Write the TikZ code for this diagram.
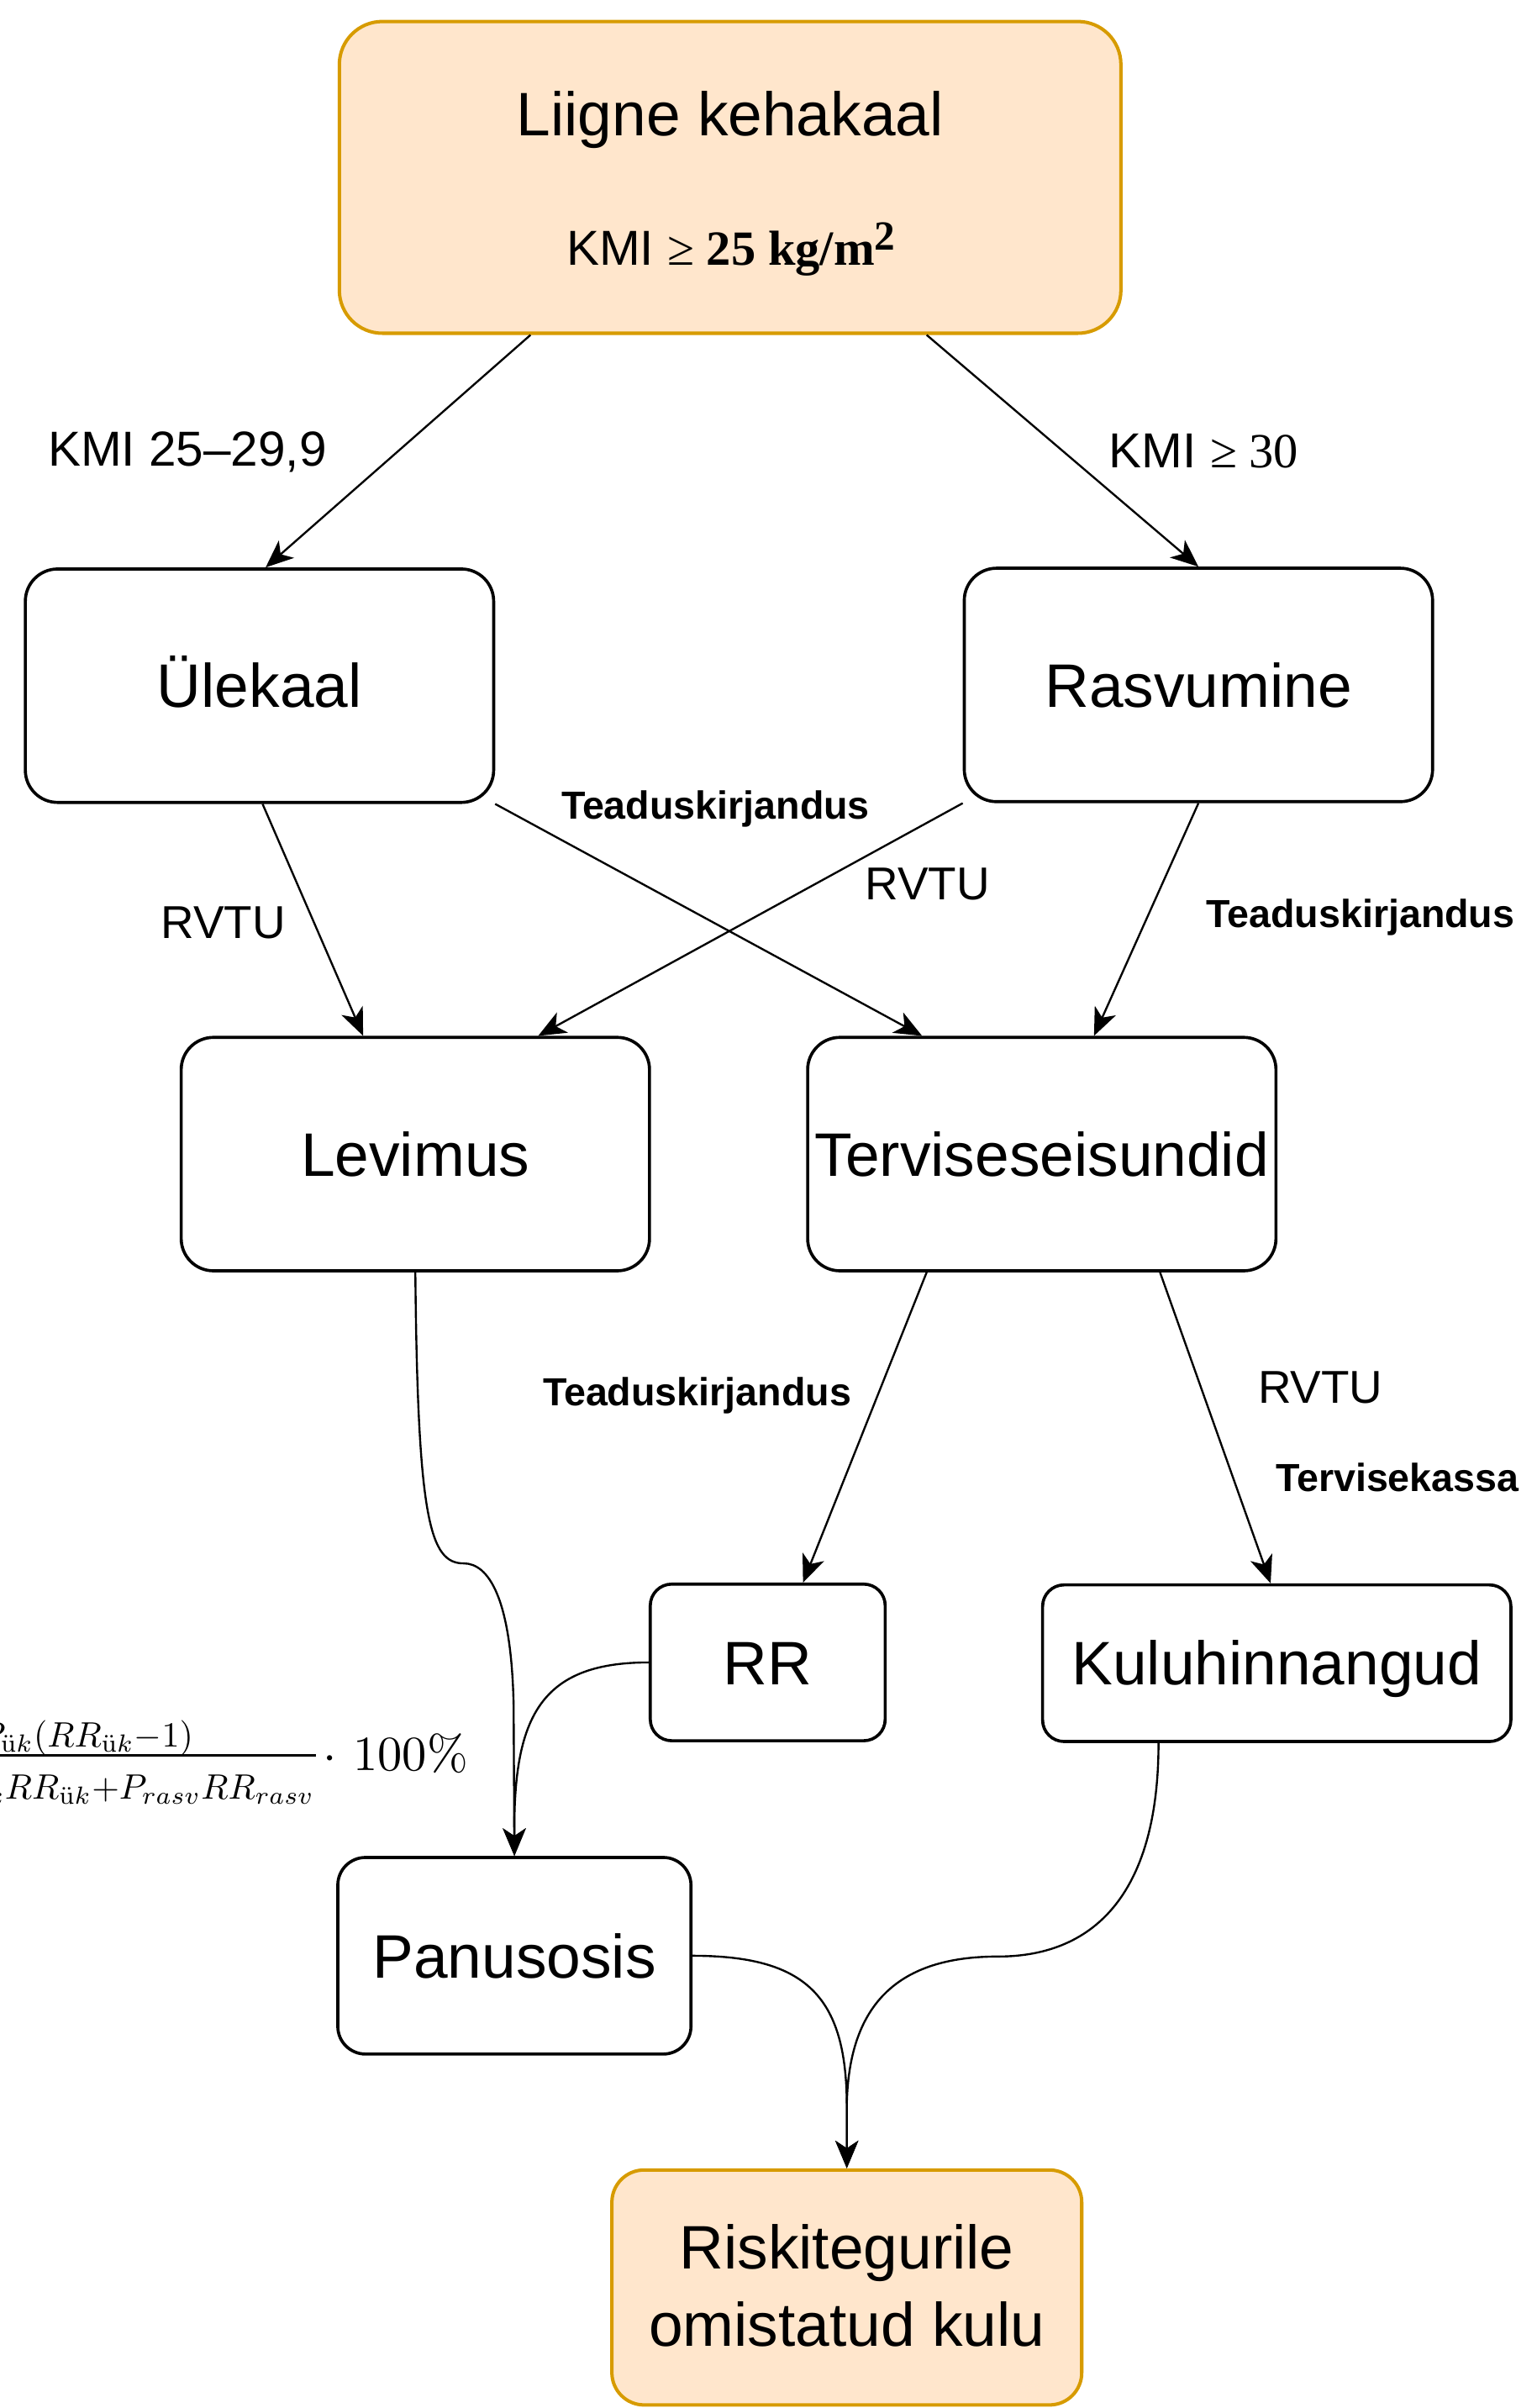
\documentclass[tikz,border=0pt]{standalone}
\usepackage{amsmath}
\usepackage{graphicx}
\usepackage[no-math]{fontspec}
\setmainfont{Liberation Sans}
\newfontfamily\tnr{Liberation Serif}
\usetikzlibrary{arrows.meta,calc}
\definecolor{peach}{HTML}{FFE6CC}
\definecolor{peachline}{HTML}{D79B00}
\begin{document}
\begin{tikzpicture}[x=1pt,y=-1pt,
  box/.style={draw=black,line width=2pt,fill=white,rounded corners=21pt,
    minimum width=305pt,minimum height=152pt,inner sep=0pt,
    font=\fontsize{40}{48}\selectfont,text height=28.6pt,text depth=0pt},
  obox/.style={draw=peachline,line width=2.2pt,fill=peach,rounded corners=24pt,inner sep=0pt},
  btext/.style={inner sep=0pt,font=\fontsize{40}{48}\selectfont,text height=28.6pt,text depth=0pt},
  kmilab/.style={inner sep=0pt,font=\fontsize{32}{38}\selectfont,text height=22.9pt,text depth=0pt},
  rvtu/.style={inner sep=0pt,font=\fontsize{30}{36}\selectfont,text height=21.5pt,text depth=0pt},
  srclab/.style={inner sep=0pt,font=\fontsize{25.5}{30}\selectfont\bfseries,text height=18.3pt,text depth=0pt},
  mathpart/.style={inner sep=0pt,anchor=base east,font=\normalsize},
  arr/.style={line width=1.3pt,-{Stealth[length=18pt,width=15pt,inset=5pt]}}]
\useasboundingbox (0,0) rectangle (1001,1568);

% boxes
\node[obox,minimum width=509pt,minimum height=203pt,rounded corners=28pt] (top) at (475.5,115.5) {};
\node[btext] (topA) at (475.5,74) {Liigne kehakaal};
\node[kmilab] (topB) at (476,161) {KMI {\tnr ≥ \bfseries 25 kg/m\raisebox{0.3em}{\fontsize{27}{30}\selectfont 2}}};

\node[box] (ul) at (169,446.5) {Ülekaal};
\node[box] (ras) at (780.5,446) {Rasvumine};
\node[box] (lev) at (270.5,751.5) {Levimus};
\node[box] (terv) at (678.5,751.5) {Terviseseisundid};
\node[box,minimum width=153pt,minimum height=102pt,rounded corners=14pt] (rr) at (500,1082.5) {RR};
\node[box,minimum height=102pt,rounded corners=14pt] (kulu) at (831.5,1083) {Kuluhinnangud};
\node[box,minimum width=230pt,minimum height=128pt,rounded corners=18pt] (pan) at (335,1273.5) {Panusosis};

\node[obox,minimum width=306pt,minimum height=153pt,rounded corners=21pt] (risk) at (551.5,1489.5) {};
\node[btext] (riskA) at (551.5,1463) {Riskitegurile};
\node[btext] (riskB) at (551.5,1513.5) {omistatud kulu};

% straight connectors
\draw[arr] ($(top.south)+(-130,0)$) -- ($(ul.north)+(4,0)$);
\draw[arr] ($(top.south)+(128,0)$) -- (ras.north);
\draw[arr] ($(ul.south)+(2,0)$) -- ($(lev.north)+(-34,0)$);
\draw[arr] (ul.south east) -- ($(terv.north)+(-78,0)$);
\draw[arr] (ras.south west) -- ($(lev.north)+(80,0)$);
\draw[arr] (ras.south) -- ($(terv.north)+(34,0)$);
\draw[arr] ($(terv.south)+(-75,0)$) -- ($(rr.north)+(23,0)$);
\draw[arr] ($(terv.south)+(77,0)$) -- ($(kulu.north)+(-4,0)$);

% curved connectors
\draw[arr] (lev.south) .. controls (272,990) and (280,1018) .. (302,1018)
  .. controls (318,1018) and (333,1040) .. (334.5,1110) -- (pan.north);
\draw[arr] (rr.west) .. controls (355,1082.5) and (336,1115) .. (335,1185) -- (pan.north);
\draw[arr] (pan.east) .. controls (525,1273.5) and (551,1300) .. (551.5,1370) -- (risk.north);
\draw[arr] ($(kulu.south)+(-77,0)$) .. controls (754.5,1230) and (715,1274) .. (650,1274)
  .. controls (590,1274) and (553,1300) .. (551.5,1370) -- (risk.north);

% labels
\node[kmilab] (l1) at (122,292) {KMI 25–29,9};
\node[kmilab] (l2) at (784,293) {KMI {\tnr ≥ 30}};
\node[srclab] (l3) at (466,524) {Teaduskirjandus};
\node[rvtu] (l4) at (604,575) {RVTU};
\node[rvtu] (l5) at (145.5,600.5) {RVTU};
\node[srclab] (l6) at (886,595) {Teaduskirjandus};
\node[srclab] (l7) at (454,906) {Teaduskirjandus};
\node[rvtu] (l8) at (860,903) {RVTU};
\node[srclab] (l9) at (910,962) {Tervisekassa};

% formula (cut by the left edge)
\begin{scope}
\clip (0,0) rectangle (1001,1568);
\node[mathpart] (fnum) at (126,1137.5) {\scalebox{2.3}{$P_{\ddot{\mathrm{u}}k}(RR_{\ddot{\mathrm{u}}k}{-}1)$}};
\node[mathpart] (fden) at (205,1171.5) {\scalebox{2.3}{$P_{\ddot{\mathrm{u}}k}RR_{\ddot{\mathrm{u}}k}{+}P_{rasv}RR_{rasv}$}};
\draw[line width=1.6pt] (-10,1143) -- (206,1143);
\node[mathpart] (fpct) at (305,1153) {\scalebox{3.2}{$\cdot\mkern6mu 100\%$}};
\end{scope}
\end{tikzpicture}
\end{document}
